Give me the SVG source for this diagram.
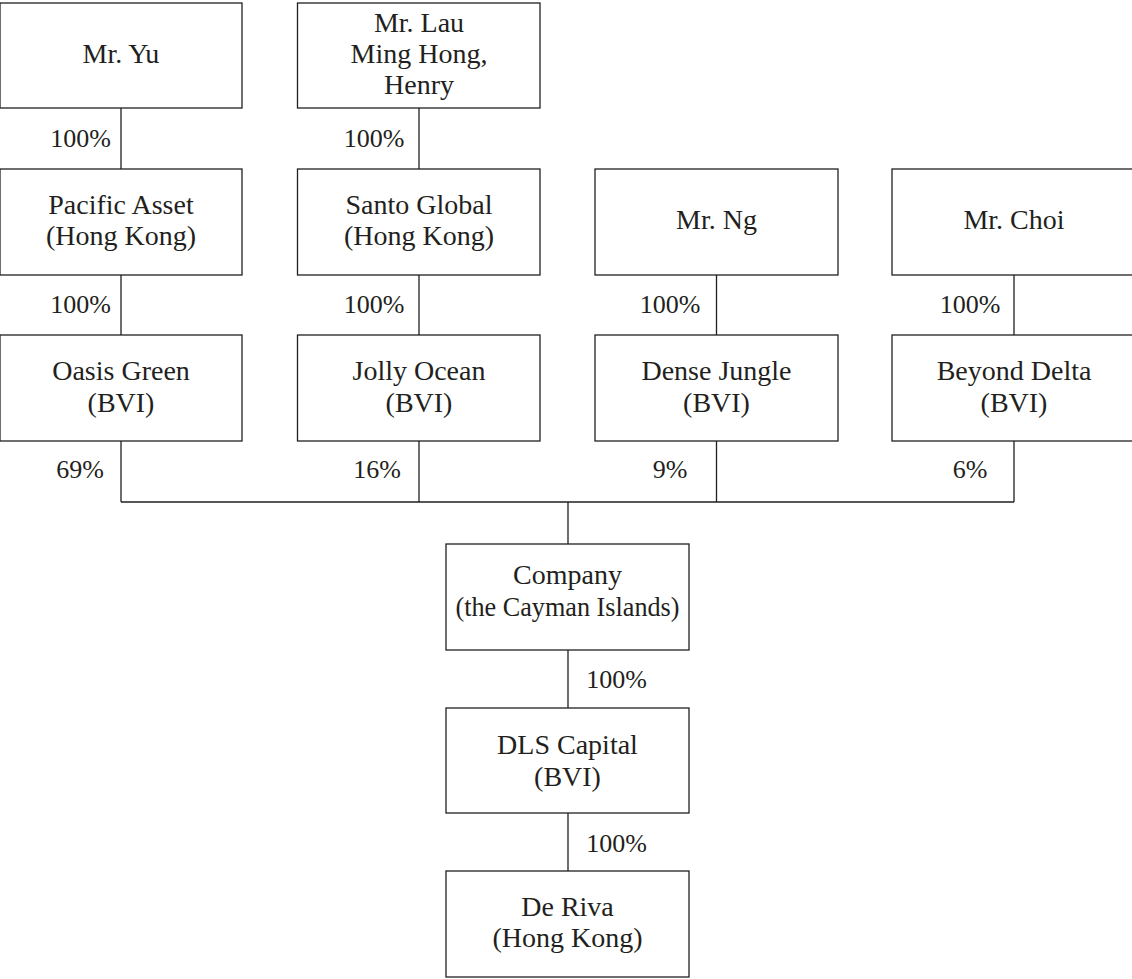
<svg xmlns="http://www.w3.org/2000/svg" width="1132" height="979" viewBox="0 0 1132 979">
<style>
.box{fill:#fff;stroke:#231f20;stroke-width:1.3}
.t{font-family:"Liberation Serif","Times New Roman",serif;font-size:28px;fill:#231f20;text-anchor:middle}
.l{font-family:"Liberation Serif","Times New Roman",serif;font-size:26px;fill:#231f20;text-anchor:middle}
.c{fill:none;stroke:#231f20;stroke-width:1.3}
</style>
<rect width="1132" height="979" fill="#fff"/>
<g id="connectors">
<path class="c" d="M121 108V169M419 108V169M121 275V335M419 275V335M716.5 275V335M1014 275V335M121 441V502M419 441V502M716.5 441V502M1014 441V502M121 502H1014M568 502V544M568 650V708M568 813V871"/>
<text class="l" x="80.5" y="147">100%</text>
<text class="l" x="374" y="147">100%</text>
<text class="l" x="80.5" y="313">100%</text>
<text class="l" x="374" y="313">100%</text>
<text class="l" x="670" y="313">100%</text>
<text class="l" x="970" y="313">100%</text>
<text class="l" x="80" y="478">69%</text>
<text class="l" x="377" y="478">16%</text>
<text class="l" x="670" y="478">9%</text>
<text class="l" x="970" y="478">6%</text>
<text class="l" x="616.5" y="688">100%</text>
<text class="l" x="616.5" y="852">100%</text>
</g>
<g id="mr-yu"><rect class="box" x="0" y="3" width="242" height="105"/><text class="t" x="121" y="63">Mr. Yu</text></g>
<g id="mr-lau"><rect class="box" x="297.5" y="3" width="242.5" height="105"/><text class="t" x="419" y="32">Mr. Lau</text><text class="t" x="419" y="63">Ming Hong,</text><text class="t" x="419" y="94">Henry</text></g>
<g id="pacific-asset"><rect class="box" x="0" y="169" width="242" height="106"/><text class="t" x="121" y="213.5">Pacific Asset</text><text class="t" x="121" y="245">(Hong Kong)</text></g>
<g id="santo-global"><rect class="box" x="297.5" y="169" width="242.5" height="106"/><text class="t" x="419" y="213.5">Santo Global</text><text class="t" x="419" y="245">(Hong Kong)</text></g>
<g id="mr-ng"><rect class="box" x="595" y="169" width="243" height="106"/><text class="t" x="716.5" y="229">Mr. Ng</text></g>
<g id="mr-choi"><rect class="box" x="892" y="169" width="244" height="106"/><text class="t" x="1014" y="229">Mr. Choi</text></g>
<g id="oasis-green"><rect class="box" x="0" y="335" width="242" height="106"/><text class="t" x="121" y="380">Oasis Green</text><text class="t" x="121" y="412">(BVI)</text></g>
<g id="jolly-ocean"><rect class="box" x="297.5" y="335" width="242.5" height="106"/><text class="t" x="419" y="380">Jolly Ocean</text><text class="t" x="419" y="412">(BVI)</text></g>
<g id="dense-jungle"><rect class="box" x="595" y="335" width="243" height="106"/><text class="t" x="716.5" y="380">Dense Jungle</text><text class="t" x="716.5" y="412">(BVI)</text></g>
<g id="beyond-delta"><rect class="box" x="892" y="335" width="244" height="106"/><text class="t" x="1014" y="380">Beyond Delta</text><text class="t" x="1014" y="412">(BVI)</text></g>
<g id="company"><rect class="box" x="446" y="544" width="243" height="106"/><text class="t" x="567.5" y="584">Company</text><text class="t" x="567.5" y="616" textLength="224" lengthAdjust="spacingAndGlyphs">(the Cayman Islands)</text></g>
<g id="dls-capital"><rect class="box" x="446" y="708" width="243" height="105"/><text class="t" x="567.5" y="754">DLS Capital</text><text class="t" x="567.5" y="786">(BVI)</text></g>
<g id="de-riva"><rect class="box" x="446" y="871" width="243" height="106"/><text class="t" x="567.5" y="916">De Riva</text><text class="t" x="567.5" y="947">(Hong Kong)</text></g>
</svg>
